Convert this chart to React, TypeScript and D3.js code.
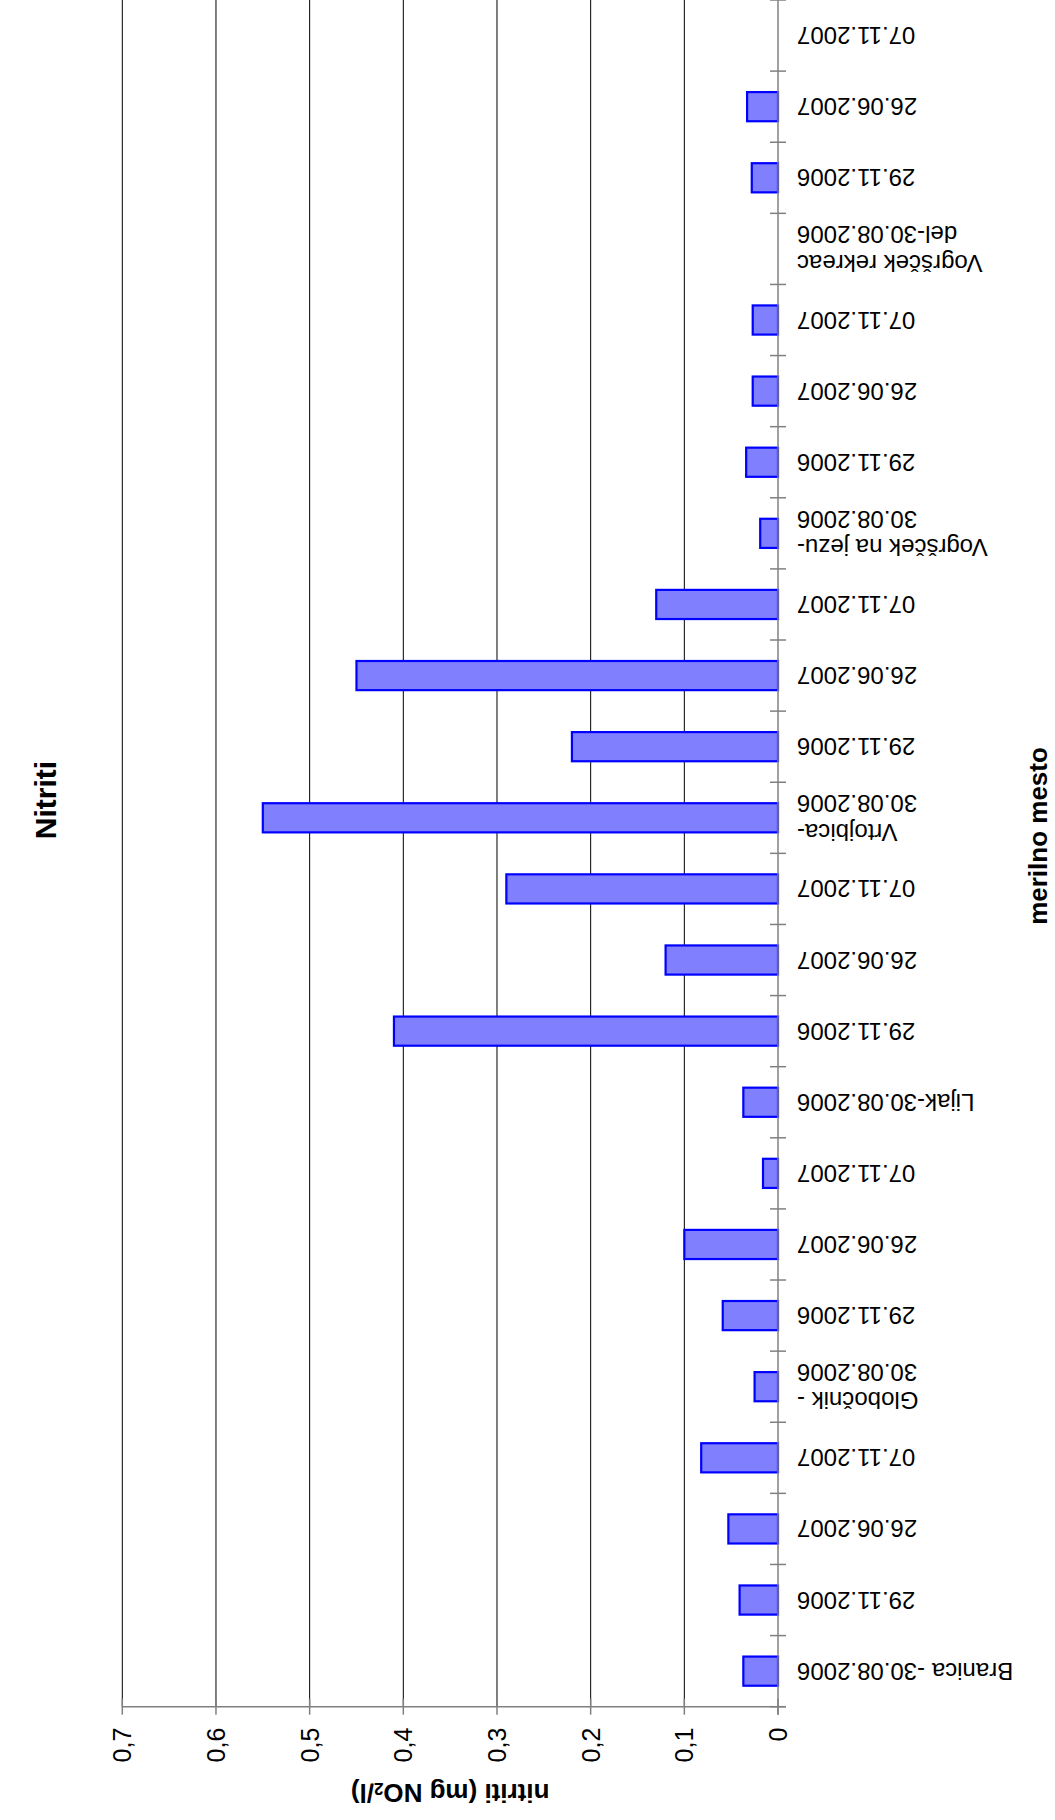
import React, { useRef, useLayoutEffect } from 'react';
import * as d3 from 'd3';

// categories, bottom to top (first one sits next to the value axis)
const categoryLines: string[][] = [
    ['Branica -30.08.2006'], ['29.11.2006'], ['26.06.2007'], ['07.11.2007'],
    ['Globočnik -', '30.08.2006'], ['29.11.2006'], ['26.06.2007'], ['07.11.2007'],
    ['Lijak-30.08.2006'], ['29.11.2006'], ['26.06.2007'], ['07.11.2007'],
    ['Vrtojbica-', '30.08.2006'], ['29.11.2006'], ['26.06.2007'], ['07.11.2007'],
    ['Vogršček na jezu-', '30.08.2006'], ['29.11.2006'], ['26.06.2007'], ['07.11.2007'],
    ['Vogršček rekreac', 'del-30.08.2006'], ['29.11.2006'], ['26.06.2007'], ['07.11.2007']
];

const nitriti: (number | null)[] = [
    0.037, 0.041, 0.053, 0.082,
    0.025, 0.059, 0.1, 0.016,
    0.037, 0.41, 0.12, 0.29,
    0.55, 0.22, 0.45, 0.13,
    0.019, 0.034, 0.027, 0.027,
    null, 0.028, 0.033, null
];

const valueTicks = [0, 0.1, 0.2, 0.3, 0.4, 0.5, 0.6, 0.7];

const title = 'Nitriti';
const valueTitle = 'nitriti (mg NO';
const categoryTitle = 'merilno mesto';

const FONT = '"Liberation Sans", Arial, sans-serif';

const App = () => {
    const ref = useRef<SVGSVGElement>(null);

    useLayoutEffect(() => {
        document.body.style.margin = '0';
        const svg = d3.select(ref.current);
        svg.selectAll('*').remove();

        const width = 1055;
        const height = 1820;
        const axisY = 1706.7; // value axis (horizontal, bottom)
        const axisX = 778;    // category axis (vertical, right)

        const idx = categoryLines.map((d, i) => String(i));
        const yScale = d3.scaleBand<string>()
            .domain(idx)
            .range([axisY, 0])
            .paddingInner(0.59)
            .paddingOuter(0.295);
        const step = yScale.step();

        const xScale = d3.scaleLinear().domain([0, 0.7]).range([axisX, 122.3]);

        svg.append('rect').attr('width', width).attr('height', height).attr('fill', '#fff');

        // grid lines
        svg.append('g')
            .selectAll('line')
            .data(valueTicks.filter(d => d > 0))
            .enter().append('line')
            .attr('x1', d => xScale(d)).attr('x2', d => xScale(d))
            .attr('y1', 0).attr('y2', axisY)
            .attr('stroke', '#000')
            .attr('stroke-width', 1);

        // bars
        svg.append('g')
            .selectAll('rect')
            .data(nitriti.map((v, i) => ({ v, i })).filter(d => d.v !== null))
            .enter().append('rect')
            .attr('x', d => xScale(d.v as number))
            .attr('y', d => yScale(String(d.i)) as number)
            .attr('width', d => axisX - xScale(d.v as number))
            .attr('height', yScale.bandwidth())
            .attr('fill', '#8080FF')
            .attr('stroke', '#0000FF')
            .attr('stroke-width', 2.2);

        // value axis
        const vAxis = svg.append('g');
        vAxis.append('line')
            .attr('x1', xScale(0.7)).attr('x2', axisX + 8)
            .attr('y1', axisY).attr('y2', axisY)
            .attr('stroke', '#808080').attr('stroke-width', 1.5);
        vAxis.selectAll('.vtick')
            .data(valueTicks)
            .enter().append('line')
            .attr('class', 'vtick')
            .attr('x1', d => xScale(d)).attr('x2', d => xScale(d))
            .attr('y1', axisY - 8).attr('y2', axisY + 8)
            .attr('stroke', '#808080').attr('stroke-width', 1.5);
        vAxis.selectAll('.vlabel')
            .data(valueTicks)
            .enter().append('text')
            .attr('class', 'vlabel')
            .attr('transform', d => 'translate(' + xScale(d) + ',' + (axisY + 21) + ') rotate(-90)')
            .attr('text-anchor', 'end')
            .attr('dominant-baseline', 'central')
            .style('font-family', FONT)
            .style('font-size', '25px')
            .text(d => d3.format('.1f')(d).replace('.', ',').replace(/^0,0$/, '0'));

        // category axis
        const cAxis = svg.append('g');
        cAxis.append('line')
            .attr('x1', axisX).attr('x2', axisX)
            .attr('y1', 0).attr('y2', axisY + 8)
            .attr('stroke', '#808080').attr('stroke-width', 1.5);
        const boundaries = d3.range(categoryLines.length + 1).map(i => axisY - i * step);
        cAxis.selectAll('.ctick')
            .data(boundaries)
            .enter().append('line')
            .attr('class', 'ctick')
            .attr('x1', axisX - 8).attr('x2', axisX + 8)
            .attr('y1', d => d).attr('y2', d => d)
            .attr('stroke', '#808080').attr('stroke-width', 1.5);

        // category labels, upside down
        const lineGap = 28.5;
        categoryLines.forEach((lines, i) => {
            const cy = (yScale(String(i)) as number) + yScale.bandwidth() / 2;
            const t = cAxis.append('text')
                .attr('transform', 'translate(' + (axisX + 19) + ',' + cy + ') rotate(180)')
                .attr('text-anchor', 'end')
                .style('font-family', FONT)
                .style('font-size', '24px');
            lines.forEach((l, j) => {
                t.append('tspan')
                    .attr('x', 0)
                    .attr('y', (j - (lines.length - 1) / 2) * lineGap)
                    .attr('dominant-baseline', 'central')
                    .text(l);
            });
        });

        // value axis title (upside down)
        const vt = svg.append('text')
            .attr('transform', 'translate(' + ((xScale(0) + xScale(0.7)) / 2) + ',1793) rotate(180)')
            .attr('text-anchor', 'middle')
            .attr('dominant-baseline', 'central')
            .style('font-family', FONT)
            .style('font-size', '26px')
            .style('font-weight', 'bold');
        vt.append('tspan').text(valueTitle);
        vt.append('tspan').attr('baseline-shift', '-25%').style('font-size', '17px').text('2');
        vt.append('tspan').text('/l)');

        // category axis title
        svg.append('text')
            .attr('transform', 'translate(1038,836) rotate(-90)')
            .attr('text-anchor', 'middle')
            .attr('dominant-baseline', 'central')
            .style('font-family', FONT)
            .style('font-size', '26px')
            .style('font-weight', 'bold')
            .text(categoryTitle);

        // chart title
        svg.append('text')
            .attr('transform', 'translate(45,800) rotate(-90)')
            .attr('text-anchor', 'middle')
            .attr('dominant-baseline', 'central')
            .style('font-family', FONT)
            .style('font-size', '30px')
            .style('font-weight', 'bold')
            .text(title);
    }, []);

    return (
        <svg ref={ref} width={1055} height={1820} style={{ display: 'block' }}></svg>
    );
};

export default App;
